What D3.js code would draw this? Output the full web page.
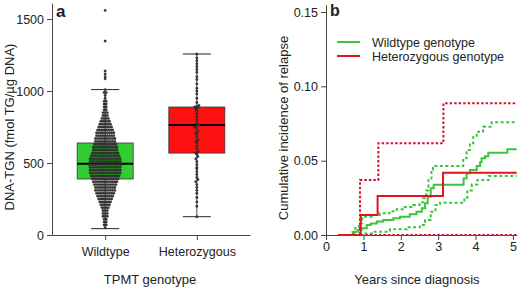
<!DOCTYPE html>
<html lang="en">
<head>
<meta charset="UTF-8">
<title>TPMT genotype</title>
<script src="https://d3js.org/d3.v7.min.js"></script>
<style>
  body { margin: 0; background: #fff; }
  text { font-family: Arial, "Liberation Sans", sans-serif; fill: #222; }
</style>
</head>
<body>
<script>
// ---- data: panel a (DNA-TGN by TPMT genotype) ----
var groups = ['Wildtype', 'Heterozygous'];
var whiskerLow = [44, 127];
var q1 = [389, 569];
var median = [495, 764];
var q3 = [639, 889];
var whiskerHigh = [1010, 1257];
var boxColors = ['#33cc33', '#ff1010'];

// wildtype dots, read as rows (row value, number of dots in the row)
var wtRowValues = [50, 70, 90, 110, 130, 150, 170, 190, 210, 230, 250, 270, 290, 310, 330, 350,
  370, 390, 410, 430, 450, 470, 490, 510, 530, 550, 570, 590, 610, 630, 650, 670, 690, 710,
  730, 750, 770, 790, 810, 830, 850, 870, 890, 910, 930, 950, 970, 990, 1010];
var wtRowCounts = [1, 2, 2, 2, 3, 3, 3, 4, 5, 6, 7, 8, 9, 10, 10, 11,
  12, 13, 14, 15, 15, 15, 16, 15, 15, 14, 13, 12, 12, 11, 10, 10, 9, 9,
  8, 7, 6, 5, 4, 3, 3, 2, 2, 2, 2, 1, 1, 2, 1];
var wtOutliers = [1560, 1347, 1139, 1118, 1100, 1085];
var hetValues = [127, 200, 230, 260, 290, 310, 330, 350, 370, 385, 400, 420, 440, 460, 470, 490,
  510, 530, 545, 560, 570, 580, 600, 620, 640, 650, 660, 680, 700, 710, 720, 740, 750, 760,
  765, 780, 800, 820, 840, 860, 875, 885, 890, 895, 900, 920, 950, 980, 1000, 1020, 1050,
  1080, 1100, 1130, 1150, 1170, 1190, 1210, 1230, 1257];

// ---- data: panel b (cumulative incidence of relapse), [years, incidence] ----
var wtEstimate = [[0.33, 0], [0.72, 0.0011], [0.76, 0.0022], [0.85, 0.0034], [0.95, 0.0045],
  [1.09, 0.0067], [1.2, 0.0078], [1.36, 0.009], [1.53, 0.0101], [1.8, 0.0112], [1.98, 0.0123],
  [2.24, 0.0139], [2.42, 0.0157], [2.56, 0.018], [2.65, 0.0213], [2.72, 0.0258], [2.8, 0.0314],
  [2.88, 0.0338], [3.68, 0.038], [3.76, 0.0415], [3.85, 0.0437], [4.03, 0.0464], [4.12, 0.049],
  [4.16, 0.0516], [4.25, 0.053], [4.34, 0.0554], [4.85, 0.0577], [5.1, 0.0577]];
var wtUpper = [[0.33, 0], [0.71, 0.002], [0.78, 0.0045], [0.88, 0.0079], [0.97, 0.0123],
  [1.27, 0.0135], [1.44, 0.0146], [1.7, 0.016], [1.89, 0.0173], [2.1, 0.0188], [2.33, 0.0202],
  [2.5, 0.022], [2.6, 0.0247], [2.68, 0.03], [2.74, 0.037], [2.82, 0.0437], [2.86, 0.0464],
  [3.67, 0.0516], [3.76, 0.0572], [3.85, 0.0617], [3.94, 0.066], [4.03, 0.0695], [4.2, 0.0729],
  [4.43, 0.0758], [5.1, 0.0758]];
var wtLower = [[0.33, 0], [1.0, 0.001], [1.27, 0.0022], [1.71, 0.0038], [2.16, 0.0052],
  [2.51, 0.0067], [2.65, 0.0101], [2.8, 0.0157], [2.93, 0.0202], [3.05, 0.0217], [3.7, 0.025],
  [3.78, 0.03], [3.9, 0.034], [4.05, 0.037], [4.35, 0.0397], [5.1, 0.0397]];
var hetEstimate = [[0.33, 0], [0.93, 0.0135], [1.38, 0.0262], [3.13, 0.0419], [5.1, 0.0419]];
var hetUpper = [[0.33, 0], [0.91, 0.037], [1.4, 0.0617], [3.14, 0.0886], [5.1, 0.0886]];
var hetLower = [[0.33, 0], [5.1, 0]];

var green = '#3cc43c';
var red = '#e3141c';
var redDash = '#d2142c';
var axisColor = '#444';

var svg = d3.select('body').append('svg').attr('width', 520).attr('height', 290);

// ================= panel a =================
var ya = d3.scaleLinear().domain([0, 1610]).range([235, 3.2]);
var xa = d3.scalePoint().domain(groups).range([52, 250]).padding(0.58);

var gAy = svg.append('g').attr('transform', 'translate(52,0)')
  .call(d3.axisLeft(ya).tickValues([0, 500, 1000, 1500]).tickFormat(d3.format('d'))
    .tickSize(5).tickSizeOuter(0).tickPadding(3));
var gAx = svg.append('g').attr('transform', 'translate(0,235)')
  .call(d3.axisBottom(xa).tickSize(5).tickSizeOuter(0).tickPadding(7));
[gAy, gAx].forEach(function (g) {
  g.selectAll('path,line').attr('stroke', axisColor);
  g.selectAll('text').style('font-size', '12.5px').attr('fill', '#222');
});

// boxes
var boxW = 56;
var boxes = svg.append('g').selectAll('g').data(groups).enter().append('g');
boxes.append('line')
  .attr('x1', function (d) { return xa(d); }).attr('x2', function (d) { return xa(d); })
  .attr('y1', function (d, i) { return ya(whiskerLow[i]); })
  .attr('y2', function (d, i) { return ya(whiskerHigh[i]); })
  .attr('stroke', '#222').attr('stroke-width', 0.8);
boxes.append('rect')
  .attr('x', function (d) { return xa(d) - boxW / 2; })
  .attr('y', function (d, i) { return ya(q3[i]); })
  .attr('width', boxW)
  .attr('height', function (d, i) { return ya(q1[i]) - ya(q3[i]); })
  .attr('fill', function (d, i) { return boxColors[i]; })
  .attr('stroke', '#333').attr('stroke-width', 0.8);

// dots
var dx = 2.15;
var dots = [];
wtRowValues.forEach(function (v, r) {
  var n = wtRowCounts[r];
  for (var k = 0; k < n; k++) dots.push({ g: 'Wildtype', v: v, off: (k - (n - 1) / 2) * dx });
});
wtOutliers.forEach(function (v) { dots.push({ g: 'Wildtype', v: v, off: 0 }); });
var hetRows = d3.group(hetValues, function (v) { return Math.round(v / 20); });
hetRows.forEach(function (vals) {
  vals.forEach(function (v, k) { dots.push({ g: 'Heterozygous', v: v, off: (k - (vals.length - 1) / 2) * dx }); });
});
svg.append('g').selectAll('circle').data(dots).enter().append('circle')
  .attr('cx', function (d) { return xa(d.g) + d.off; })
  .attr('cy', function (d) { return ya(d.v); })
  .attr('r', 1.2)
  .attr('fill', '#3a3a3a')
  .attr('stroke', '#111').attr('stroke-width', 0.3);

// median + caps
boxes.append('line')
  .attr('x1', function (d) { return xa(d) - boxW / 2; }).attr('x2', function (d) { return xa(d) + boxW / 2; })
  .attr('y1', function (d, i) { return ya(median[i]); }).attr('y2', function (d, i) { return ya(median[i]); })
  .attr('stroke', '#000').attr('stroke-width', 2.2);
[whiskerLow, whiskerHigh].forEach(function (arr) {
  boxes.append('line')
    .attr('x1', function (d) { return xa(d) - 14; }).attr('x2', function (d) { return xa(d) + 14; })
    .attr('y1', function (d, i) { return ya(arr[i]); }).attr('y2', function (d, i) { return ya(arr[i]); })
    .attr('stroke', '#222').attr('stroke-width', 1);
});

svg.append('text').attr('transform', 'translate(14,127) rotate(-90)')
  .attr('text-anchor', 'middle').style('font-size', '13px').text('DNA-TGN (fmol TG/µg DNA)');
svg.append('text').attr('x', 150).attr('y', 284)
  .attr('text-anchor', 'middle').style('font-size', '13px').text('TPMT genotype');
svg.append('text').attr('x', 56).attr('y', 17)
  .style('font-size', '17px').style('font-weight', 'bold').attr('fill', '#000').text('a');

// ================= panel b =================
var yb = d3.scaleLinear().domain([0, 0.155]).range([235, 4.6]);
var xb = d3.scaleLinear().domain([0, 5.1]).range([326, 516.7]);

var gBy = svg.append('g').attr('transform', 'translate(326,0)')
  .call(d3.axisLeft(yb).tickValues([0, 0.05, 0.10, 0.15]).tickFormat(d3.format('.2f'))
    .tickSize(5).tickSizeOuter(0).tickPadding(3));
var gBx = svg.append('g').attr('transform', 'translate(0,235)')
  .call(d3.axisBottom(xb).tickValues([0, 1, 2, 3, 4, 5]).tickFormat(d3.format('d'))
    .tickSize(5).tickSizeOuter(0).tickPadding(2));
[gBy, gBx].forEach(function (g) {
  g.selectAll('path,line').attr('stroke', axisColor);
  g.selectAll('text').style('font-size', '12.5px').attr('fill', '#222');
});

var step = d3.line()
  .x(function (d) { return xb(d[0]); })
  .y(function (d) { return yb(d[1]); })
  .curve(d3.curveStepAfter);

var curves = [
  { data: wtLower, color: green, dash: '3,2.5' },
  { data: wtUpper, color: green, dash: '3,2.5' },
  { data: wtEstimate, color: green, dash: null },
  { data: hetLower, color: redDash, dash: '2.5,2' },
  { data: hetUpper, color: redDash, dash: '2.5,2' },
  { data: hetEstimate, color: red, dash: null }
];
svg.append('g').selectAll('path').data(curves).enter().append('path')
  .attr('d', function (d) { return step(d.data); })
  .attr('fill', 'none')
  .attr('stroke', function (d) { return d.color; })
  .attr('stroke-width', 2)
  .attr('stroke-dasharray', function (d) { return d.dash; });

// legend
var legendNames = ['Wildtype genotype', 'Heterozygous genotype'];
var legendColors = [green, red];
var lg = svg.append('g').selectAll('g').data(legendNames).enter().append('g')
  .attr('transform', function (d, i) { return 'translate(337,' + (42 + i * 14) + ')'; });
lg.append('line').attr('x1', 0).attr('x2', 23)
  .attr('stroke', function (d, i) { return legendColors[i]; }).attr('stroke-width', 2);
lg.append('text').attr('x', 35).attr('y', 4.5).style('font-size', '12.5px').text(function (d) { return d; });

svg.append('text').attr('transform', 'translate(288,128) rotate(-90)')
  .attr('text-anchor', 'middle').style('font-size', '13px').text('Cumulative incidence of relapse');
svg.append('text').attr('x', 417).attr('y', 284)
  .attr('text-anchor', 'middle').style('font-size', '13px').text('Years since diagnosis');
svg.append('text').attr('x', 330).attr('y', 16)
  .style('font-size', '16px').style('font-weight', 'bold').attr('fill', '#000').text('b');
</script>
</body>
</html>
